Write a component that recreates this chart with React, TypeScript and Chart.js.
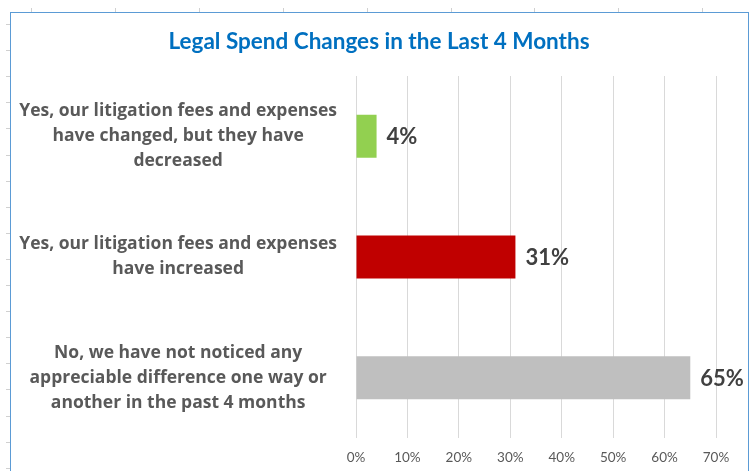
import React, { useEffect, useRef } from "react";
import { Chart, registerables } from "chart.js";

Chart.register(...registerables);

const categories: string[][] = [
  ["Yes, our litigation fees and expenses", "have changed, but they have", "decreased"],
  ["Yes, our litigation fees and expenses", "have increased"],
  ["No, we have not noticed any", "appreciable difference one way or", "another in the past 4 months"],
];
const values: number[] = [4, 31, 65];
const barColors: string[] = ["#92D050", "#C00000", "#BFBFBF"];
const xTicks: number[] = [0, 10, 20, 30, 40, 50, 60, 70];
const titleText = "Legal Spend Changes in the Last 4 Months";

const FONT = "Lato, 'Noto Sans', sans-serif";
const LABEL_FONT = "'Open Sans', 'Noto Sans', sans-serif";

const valueLabels = {
  id: "valueLabels",
  afterDatasetsDraw(chart: any) {
    const ctx = chart.ctx;
    const meta = chart.getDatasetMeta(0);
    ctx.save();
    ctx.font = `bold 22px ${FONT}`;
    ctx.fillStyle = "#404040";
    ctx.textAlign = "left";
    ctx.textBaseline = "middle";
    meta.data.forEach((bar: any, i: number) => {
      ctx.fillText(values[i] + "%", bar.x + 10, bar.y + 1);
    });
    ctx.restore();
  },
};

const chartTitle = {
  id: "chartTitle",
  afterDraw(chart: any) {
    const ctx = chart.ctx;
    ctx.save();
    ctx.font = `bold 22.5px ${FONT}`;
    ctx.fillStyle = "#0070C0";
    ctx.textAlign = "center";
    ctx.textBaseline = "alphabetic";
    ctx.fillText(titleText, 379, 48.5);
    ctx.restore();
  },
};

export default function App() {
  const ref = useRef<HTMLCanvasElement | null>(null);

  useEffect(() => {
    if (!ref.current) return;
    const chart = new Chart(ref.current, {
      type: "bar",
      data: {
        labels: categories,
        datasets: [
          {
            data: values,
            backgroundColor: barColors,
            borderWidth: 0,
            barPercentage: 0.356,
            categoryPercentage: 1,
          },
        ],
      },
      options: {
        indexAxis: "y",
        animation: false,
        responsive: false,
        maintainAspectRatio: false,
        layout: { padding: { left: 0, right: 35, top: 76, bottom: 0 } },
        plugins: {
          legend: { display: false },
          tooltip: { enabled: false },
          title: { display: false },
        },
        scales: {
          x: {
            type: "linear",
            min: 0,
            max: 70,
            afterBuildTicks(scale: any) {
              scale.ticks = xTicks.map((v) => ({ value: v }));
            },
            afterFit(scale: any) {
              scale.height = 33;
            },
            grid: { color: "#D9D9D9", drawTicks: false, lineWidth: 1 },
            border: { display: false },
            ticks: {
              padding: 12,
              color: "#595959",
              font: { family: FONT, size: 13.5 },
              callback: (v: any) => v + "%",
            },
          },
          y: {
            type: "category",
            grid: { display: false, drawTicks: false },
            border: { display: false },
            afterFit(scale: any) {
              scale.width = 356;
              scale.paddingTop = 0;
              scale.paddingBottom = 0;
            },
            ticks: {
              crossAlign: "center",
              padding: 19,
              color: "#595959",
              font: { family: LABEL_FONT, size: 17.5, weight: "bold", lineHeight: 1.43 },
            },
          },
        },
      },
      plugins: [valueLabels, chartTitle],
    });
    return () => chart.destroy();
  }, []);

  const leftTicks: number[] = [];
  for (let y = 24; y < 471; y += 26.1) leftTicks.push(Math.round(y));
  const topTicks: number[] = [];
  for (let x = 31; x < 751; x += 83.9) topTicks.push(Math.round(x));

  return (
    <div style={{ position: "fixed", left: 0, top: 0, width: 751, height: 471, background: "#fff", overflow: "hidden" }}>
      {leftTicks.map((y, i) => (
        <div key={"l" + i} style={{ position: "absolute", left: 6, top: y, width: 4, height: 1, background: "#D0D0D0" }} />
      ))}
      {topTicks.map((x, i) => (
        <div key={"t" + i} style={{ position: "absolute", left: x, top: 8, width: 1, height: 4, background: "#D0D0D0" }} />
      ))}
      <canvas ref={ref} width={751} height={471} style={{ position: "absolute", left: 0, top: 0 }} />
      <div
        style={{
          position: "absolute",
          left: 10,
          top: 12,
          width: 739,
          height: 480,
          border: "1.5px solid #5B9BD5",
          boxSizing: "border-box",
          pointerEvents: "none",
        }}
      />
    </div>
  );
}
